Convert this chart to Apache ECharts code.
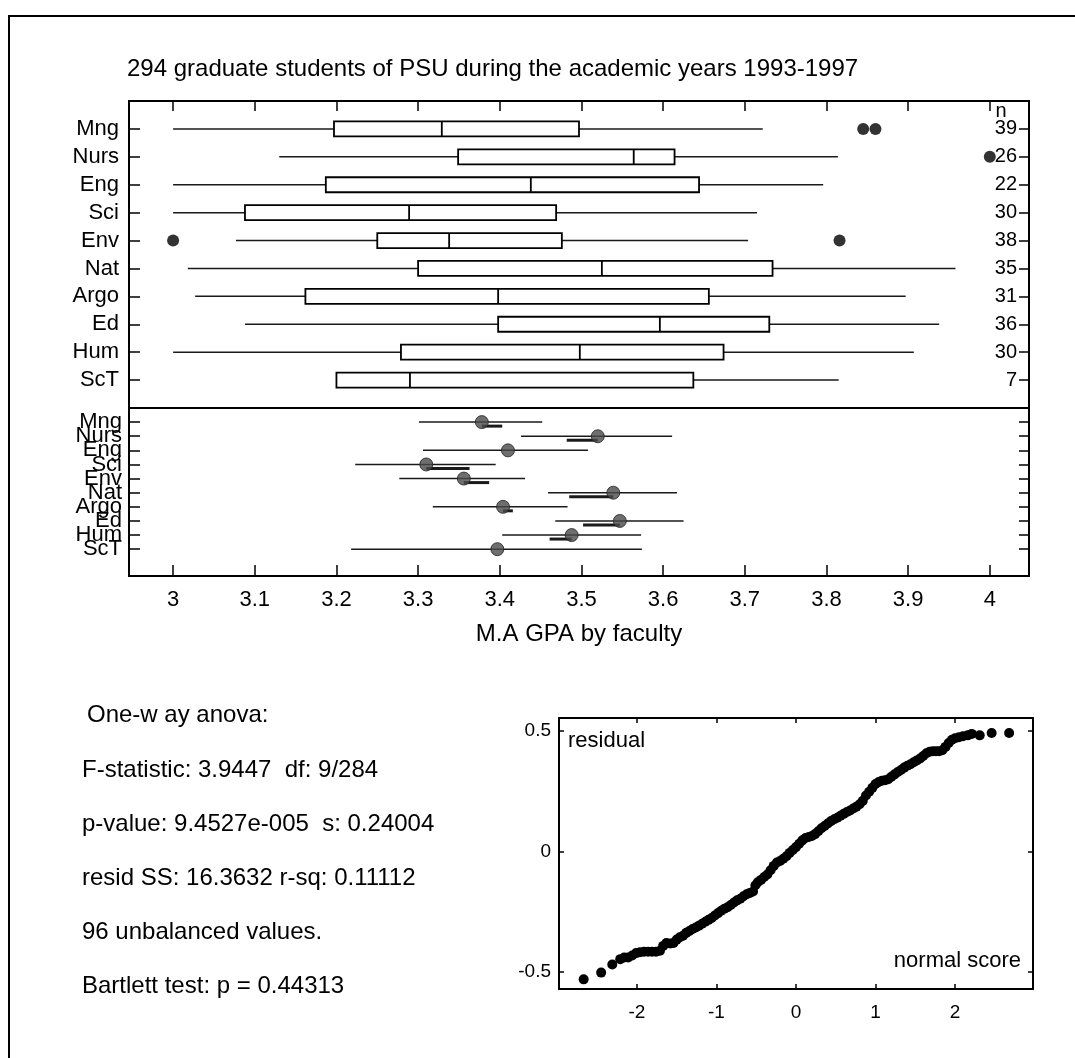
<!DOCTYPE html>
<html>
<head>
<meta charset="utf-8">
<script src="https://cdn.jsdelivr.net/npm/echarts@6/dist/echarts.min.js"></script>
<style>
html, body { margin: 0; padding: 0; background: #fff; }
#main { width: 1075px; height: 1058px; }
</style>
</head>
<body>
<div id="main"></div>
<script>
// faculties, top to bottom
const faculties = ['Mng', 'Nurs', 'Eng', 'Sci', 'Env', 'Nat', 'Argo', 'Ed', 'Hum', 'ScT'];
const counts = [39, 26, 22, 30, 38, 35, 31, 36, 30, 7];

// box plot
const lowWhisker  = [3.000, 3.130, 3.000, 3.000, 3.077, 3.018, 3.027, 3.088, 3.000, 3.200];
const q1          = [3.197, 3.349, 3.187, 3.088, 3.250, 3.300, 3.162, 3.398, 3.279, 3.200];
const median      = [3.329, 3.564, 3.438, 3.289, 3.338, 3.525, 3.398, 3.596, 3.498, 3.290];
const q3          = [3.497, 3.614, 3.644, 3.469, 3.476, 3.734, 3.656, 3.730, 3.674, 3.637];
const highWhisker = [3.722, 3.814, 3.796, 3.715, 3.704, 3.958, 3.897, 3.938, 3.907, 3.815];
// [faculty index, value]
const outliers = [[0, 3.845], [0, 3.860], [1, 4.000], [4, 3.000], [4, 3.816]];

// means panel
const meanValues = [3.378, 3.520, 3.410, 3.310, 3.356, 3.539, 3.404, 3.547, 3.488, 3.397];
const ciLow      = [3.301, 3.426, 3.306, 3.223, 3.277, 3.459, 3.318, 3.468, 3.403, 3.218];
const ciHigh     = [3.452, 3.611, 3.508, 3.395, 3.431, 3.617, 3.483, 3.625, 3.573, 3.574];
const barFrom    = [3.378, 3.482, 3.410, 3.310, 3.356, 3.485, 3.404, 3.502, 3.461, 3.397];
const barTo      = [3.403, 3.520, 3.410, 3.363, 3.387, 3.539, 3.416, 3.547, 3.488, 3.397];

const gpaTicks = [3, 3.1, 3.2, 3.3, 3.4, 3.5, 3.6, 3.7, 3.8, 3.9, 4];
const rowTicks = [1, 2, 3, 4, 5, 6, 7, 8, 9, 10];
const oddRows = [1, 3, 5, 7, 9];
const evenRows = [2, 4, 6, 8, 10];

// normal probability plot of residuals
const normalScores = [-2.67, -2.45, -2.31, -2.21, -2.16, -2.11, -2.06, -2.01, -1.96, -1.91, -1.86, -1.81, -1.76, -1.71,
  -1.67, -1.63, -1.58, -1.54, -1.50, -1.46, -1.42, -1.38, -1.34, -1.30, -1.26, -1.22, -1.18, -1.14, -1.10, -1.06,
  -1.02, -0.98, -0.94, -0.90, -0.86, -0.82, -0.78, -0.74, -0.70, -0.66, -0.62, -0.58, -0.54, -0.51, -0.48, -0.44,
  -0.40, -0.36, -0.32, -0.28, -0.24, -0.20, -0.16, -0.12, -0.08, -0.04, 0.00, 0.04, 0.08, 0.12, 0.16, 0.20, 0.24,
  0.28, 0.32, 0.36, 0.40, 0.44, 0.48, 0.52, 0.56, 0.60, 0.64, 0.68, 0.72, 0.76, 0.80, 0.84, 0.88, 0.92, 0.96, 1.00,
  1.04, 1.08, 1.12, 1.16, 1.20, 1.24, 1.28, 1.32, 1.36, 1.40, 1.44, 1.48, 1.52, 1.56, 1.60, 1.64, 1.68, 1.72, 1.76,
  1.80, 1.84, 1.88, 1.92, 1.96, 2.00, 2.05, 2.10, 2.16, 2.21, 2.31, 2.46, 2.68];
const residuals = [-0.531, -0.503, -0.469, -0.447, -0.440, -0.440, -0.432, -0.422, -0.418, -0.416, -0.416, -0.416, -0.416, -0.412,
  -0.392, -0.380, -0.382, -0.380, -0.366, -0.356, -0.350, -0.338, -0.330, -0.322, -0.316, -0.308, -0.300, -0.292, -0.284, -0.276,
  -0.266, -0.256, -0.246, -0.238, -0.232, -0.222, -0.212, -0.203, -0.196, -0.186, -0.178, -0.172, -0.166, -0.140, -0.128, -0.118,
  -0.106, -0.096, -0.078, -0.060, -0.046, -0.040, -0.030, -0.020, -0.006, 0.006, 0.018, 0.032, 0.046, 0.056, 0.060, 0.064, 0.072,
  0.084, 0.096, 0.106, 0.116, 0.126, 0.134, 0.140, 0.148, 0.156, 0.164, 0.170, 0.178, 0.186, 0.196, 0.210, 0.232, 0.248, 0.264, 0.280,
  0.288, 0.294, 0.296, 0.300, 0.310, 0.320, 0.330, 0.338, 0.348, 0.356, 0.362, 0.370, 0.378, 0.386, 0.396, 0.408, 0.414, 0.416, 0.416,
  0.416, 0.420, 0.434, 0.450, 0.464, 0.470, 0.474, 0.478, 0.482, 0.488, 0.482, 0.492, 0.492];
const scoreTicks = [-2, -1, 0, 1, 2];
const residTicks = [-0.5, 0, 0.5];

const anovaLines = [
  'One-w ay anova:',
  'F-statistic: 3.9447  df: 9/284',
  'p-value: 9.4527e-005  s: 0.24004',
  'resid SS: 16.3632 r-sq: 0.11112',
  '96 unbalanced values.',
  'Bartlett test: p = 0.44313'
];
const anovaY = [715, 770, 824, 878, 932, 986];

const FONT = '"Liberation Sans", Arial, Helvetica, sans-serif';

let chart = echarts.init(document.getElementById('main'));

function boxItem(params, api) {
  let row = api.value(0);
  let lo = api.coord([api.value(1), row]);
  let b1 = api.coord([api.value(2), row]);
  let md = api.coord([api.value(3), row]);
  let b3 = api.coord([api.value(4), row]);
  let hi = api.coord([api.value(5), row]);
  let y = lo[1];
  let h = 15;
  return {
    type: 'group',
    children: [
      { type: 'line', shape: { x1: lo[0], y1: y, x2: b1[0], y2: y }, style: { stroke: '#1a1a1a', lineWidth: 1.5 } },
      { type: 'line', shape: { x1: b3[0], y1: y, x2: hi[0], y2: y }, style: { stroke: '#1a1a1a', lineWidth: 1.5 } },
      { type: 'rect', shape: { x: b1[0], y: y - h / 2, width: b3[0] - b1[0], height: h },
        style: { fill: '#fff', stroke: '#000', lineWidth: 1.8 } },
      { type: 'line', shape: { x1: md[0], y1: y - h / 2, x2: md[0], y2: y + h / 2 }, style: { stroke: '#000', lineWidth: 1.8 } }
    ]
  };
}

function meanItem(params, api) {
  let row = api.value(0);
  let a = api.coord([api.value(1), row]);
  let b = api.coord([api.value(2), row]);
  let c = api.coord([api.value(3), row]);
  let d = api.coord([api.value(4), row]);
  return {
    type: 'group',
    children: [
      { type: 'line', shape: { x1: a[0], y1: a[1], x2: b[0], y2: b[1] }, style: { stroke: '#1a1a1a', lineWidth: 1.5 } },
      { type: 'line', shape: { x1: c[0], y1: c[1] + 4, x2: d[0], y2: d[1] + 4 }, style: { stroke: '#1a1a1a', lineWidth: 3 } }
    ]
  };
}

const tickStyle = { color: '#000', width: 1.5 };
const noLine = { show: false, onZero: false };
const labelFont = { color: '#000', fontFamily: FONT };

chart.setOption({
  animation: false,
  backgroundColor: '#fff',
  textStyle: { fontFamily: FONT, color: '#000' },
  title: {
    text: '294 graduate students of PSU during the academic years 1993-1997',
    left: 127, top: 57, padding: 0,
    textStyle: { fontSize: 24, fontWeight: 'normal', color: '#000', fontFamily: FONT }
  },
  grid: [
    { left: 129, top: 101, width: 900, height: 307, show: true, borderColor: '#000', borderWidth: 2, backgroundColor: 'transparent' },
    { left: 129, top: 408, width: 900, height: 168, show: true, borderColor: '#000', borderWidth: 2, backgroundColor: 'transparent' },
    { left: 559, top: 718, width: 474, height: 271, show: true, borderColor: '#000', borderWidth: 2, backgroundColor: 'transparent' }
  ],
  xAxis: [
    { gridIndex: 0, type: 'value', position: 'top', min: 2.946, max: 4.048,
      axisLine: noLine, splitLine: { show: false },
      axisTick: { inside: true, length: 10, customValues: gpaTicks, lineStyle: tickStyle },
      axisLabel: { show: false } },
    { gridIndex: 1, type: 'value', position: 'bottom', min: 2.946, max: 4.048,
      axisLine: noLine, splitLine: { show: false },
      axisTick: { inside: true, length: 11, customValues: gpaTicks, lineStyle: tickStyle },
      axisLabel: Object.assign({ customValues: gpaTicks, showMinLabel: true, showMaxLabel: true, fontSize: 22, margin: 13 }, labelFont),
      name: 'M.A GPA by faculty', nameLocation: 'middle', nameGap: 46,
      nameTextStyle: { fontSize: 24, color: '#000', fontFamily: FONT } },
    { gridIndex: 2, type: 'value', position: 'bottom', min: -2.98, max: 2.98,
      axisLine: noLine, splitLine: { show: false },
      axisTick: { inside: true, length: 5, customValues: scoreTicks, lineStyle: tickStyle },
      axisLabel: Object.assign({ customValues: scoreTicks, fontSize: 19, margin: 14 }, labelFont) },
    { gridIndex: 2, type: 'value', position: 'top', min: -2.98, max: 2.98,
      axisLine: noLine, splitLine: { show: false },
      axisTick: { inside: true, length: 5, customValues: scoreTicks, lineStyle: tickStyle },
      axisLabel: { show: false } }
  ],
  yAxis: [
    // 0: top panel, faculty names
    { gridIndex: 0, type: 'value', position: 'left', min: 0, max: 11, inverse: true,
      axisLine: noLine, splitLine: { show: false },
      axisTick: { inside: true, length: 11, customValues: rowTicks, lineStyle: tickStyle },
      axisLabel: Object.assign({ customValues: rowTicks, showMinLabel: true, showMaxLabel: true,
        formatter: v => faculties[v - 1], fontSize: 22, margin: 10 }, labelFont) },
    // 1: top panel, n
    { gridIndex: 0, type: 'value', position: 'right', min: 0, max: 11, inverse: true,
      axisLine: noLine, splitLine: { show: false },
      axisTick: { inside: true, length: 10, customValues: rowTicks, lineStyle: tickStyle },
      axisLabel: Object.assign({ inside: true, customValues: rowTicks, showMinLabel: true, showMaxLabel: true,
        formatter: v => String(counts[v - 1]), fontSize: 20, margin: 12 }, labelFont) },
    // 2: means panel, odd rows labelled
    { gridIndex: 1, type: 'value', position: 'left', min: 0, max: 11.9, inverse: true,
      axisLine: noLine, splitLine: { show: false },
      axisTick: { inside: true, length: 11, customValues: rowTicks, lineStyle: tickStyle },
      axisLabel: Object.assign({ customValues: oddRows, showMinLabel: true, showMaxLabel: true,
        formatter: v => faculties[v - 1], fontSize: 22, margin: 7 }, labelFont) },
    // 3: means panel, right ticks
    { gridIndex: 1, type: 'value', position: 'right', min: 0, max: 11.9, inverse: true,
      axisLine: noLine, splitLine: { show: false },
      axisTick: { inside: true, length: 10, customValues: rowTicks, lineStyle: tickStyle },
      axisLabel: { show: false } },
    // 4, 5: residual plot
    { gridIndex: 2, type: 'value', position: 'left', min: -0.571, max: 0.554,
      axisLine: noLine, splitLine: { show: false },
      axisTick: { inside: true, length: 5, customValues: residTicks, lineStyle: tickStyle },
      axisLabel: Object.assign({ customValues: residTicks, showMinLabel: true, showMaxLabel: true, fontSize: 19, margin: 8 }, labelFont) },
    { gridIndex: 2, type: 'value', position: 'right', min: -0.571, max: 0.554,
      axisLine: noLine, splitLine: { show: false },
      axisTick: { inside: true, length: 5, customValues: residTicks, lineStyle: tickStyle },
      axisLabel: { show: false } },
    // 6: means panel, even rows labelled (overlaid on axis 2)
    { gridIndex: 1, type: 'value', position: 'left', offset: 0, min: 0, max: 11.9, inverse: true,
      axisLine: noLine, splitLine: { show: false },
      axisTick: { show: false },
      axisLabel: Object.assign({ customValues: evenRows, showMinLabel: true, showMaxLabel: true,
        formatter: v => faculties[v - 1], fontSize: 22, margin: 7 }, labelFont) }
  ],
  series: [
    {
      name: 'box', type: 'custom', xAxisIndex: 0, yAxisIndex: 0,
      renderItem: boxItem,
      encode: { x: [1, 2, 3, 4, 5], y: 0 },
      data: faculties.map((f, i) => [i + 1, lowWhisker[i], q1[i], median[i], q3[i], highWhisker[i]])
    },
    {
      name: 'outliers', type: 'scatter', xAxisIndex: 0, yAxisIndex: 0,
      symbolSize: 12, itemStyle: { color: '#000' },
      data: outliers.map(o => [o[1], o[0] + 1])
    },
    {
      name: 'intervals', type: 'custom', xAxisIndex: 1, yAxisIndex: 2,
      renderItem: meanItem,
      encode: { x: [1, 2, 3, 4], y: 0 },
      data: faculties.map((f, i) => [i + 1, ciLow[i], ciHigh[i], barFrom[i], barTo[i]])
    },
    {
      name: 'means', type: 'scatter', xAxisIndex: 1, yAxisIndex: 2,
      symbolSize: 13, itemStyle: { color: '#4a4a4a', borderColor: '#222', borderWidth: 1 },
      data: faculties.map((f, i) => [meanValues[i], i + 1])
    },
    {
      name: 'residuals', type: 'scatter', xAxisIndex: 2, yAxisIndex: 4,
      symbolSize: 10, itemStyle: { color: '#000', opacity: 1 },
      data: normalScores.map((x, i) => [x, residuals[i]])
    }
  ],
  graphic: [
    { type: 'polyline', shape: { points: [[9, 1058], [9, 16], [1075, 16]] }, style: { stroke: '#000', lineWidth: 2, fill: null } },
    { type: 'text', x: 1001, y: 111, style: { text: 'n', fontSize: 20, fontFamily: FONT, fill: '#000', align: 'center', verticalAlign: 'middle' } },
    { type: 'text', x: 568, y: 741, style: { text: 'residual', fontSize: 22, fontFamily: FONT, fill: '#000', align: 'left', verticalAlign: 'middle' } },
    { type: 'text', x: 1021, y: 961, style: { text: 'normal score', fontSize: 22, fontFamily: FONT, fill: '#000', align: 'right', verticalAlign: 'middle' } }
  ].concat(anovaLines.map((t, i) => ({
    type: 'text', x: i === 0 ? 87 : 82, y: anovaY[i],
    style: { text: t, fontSize: 24, fontFamily: FONT, fill: '#000', align: 'left', verticalAlign: 'middle' }
  })))
});
</script>
</body>
</html>
